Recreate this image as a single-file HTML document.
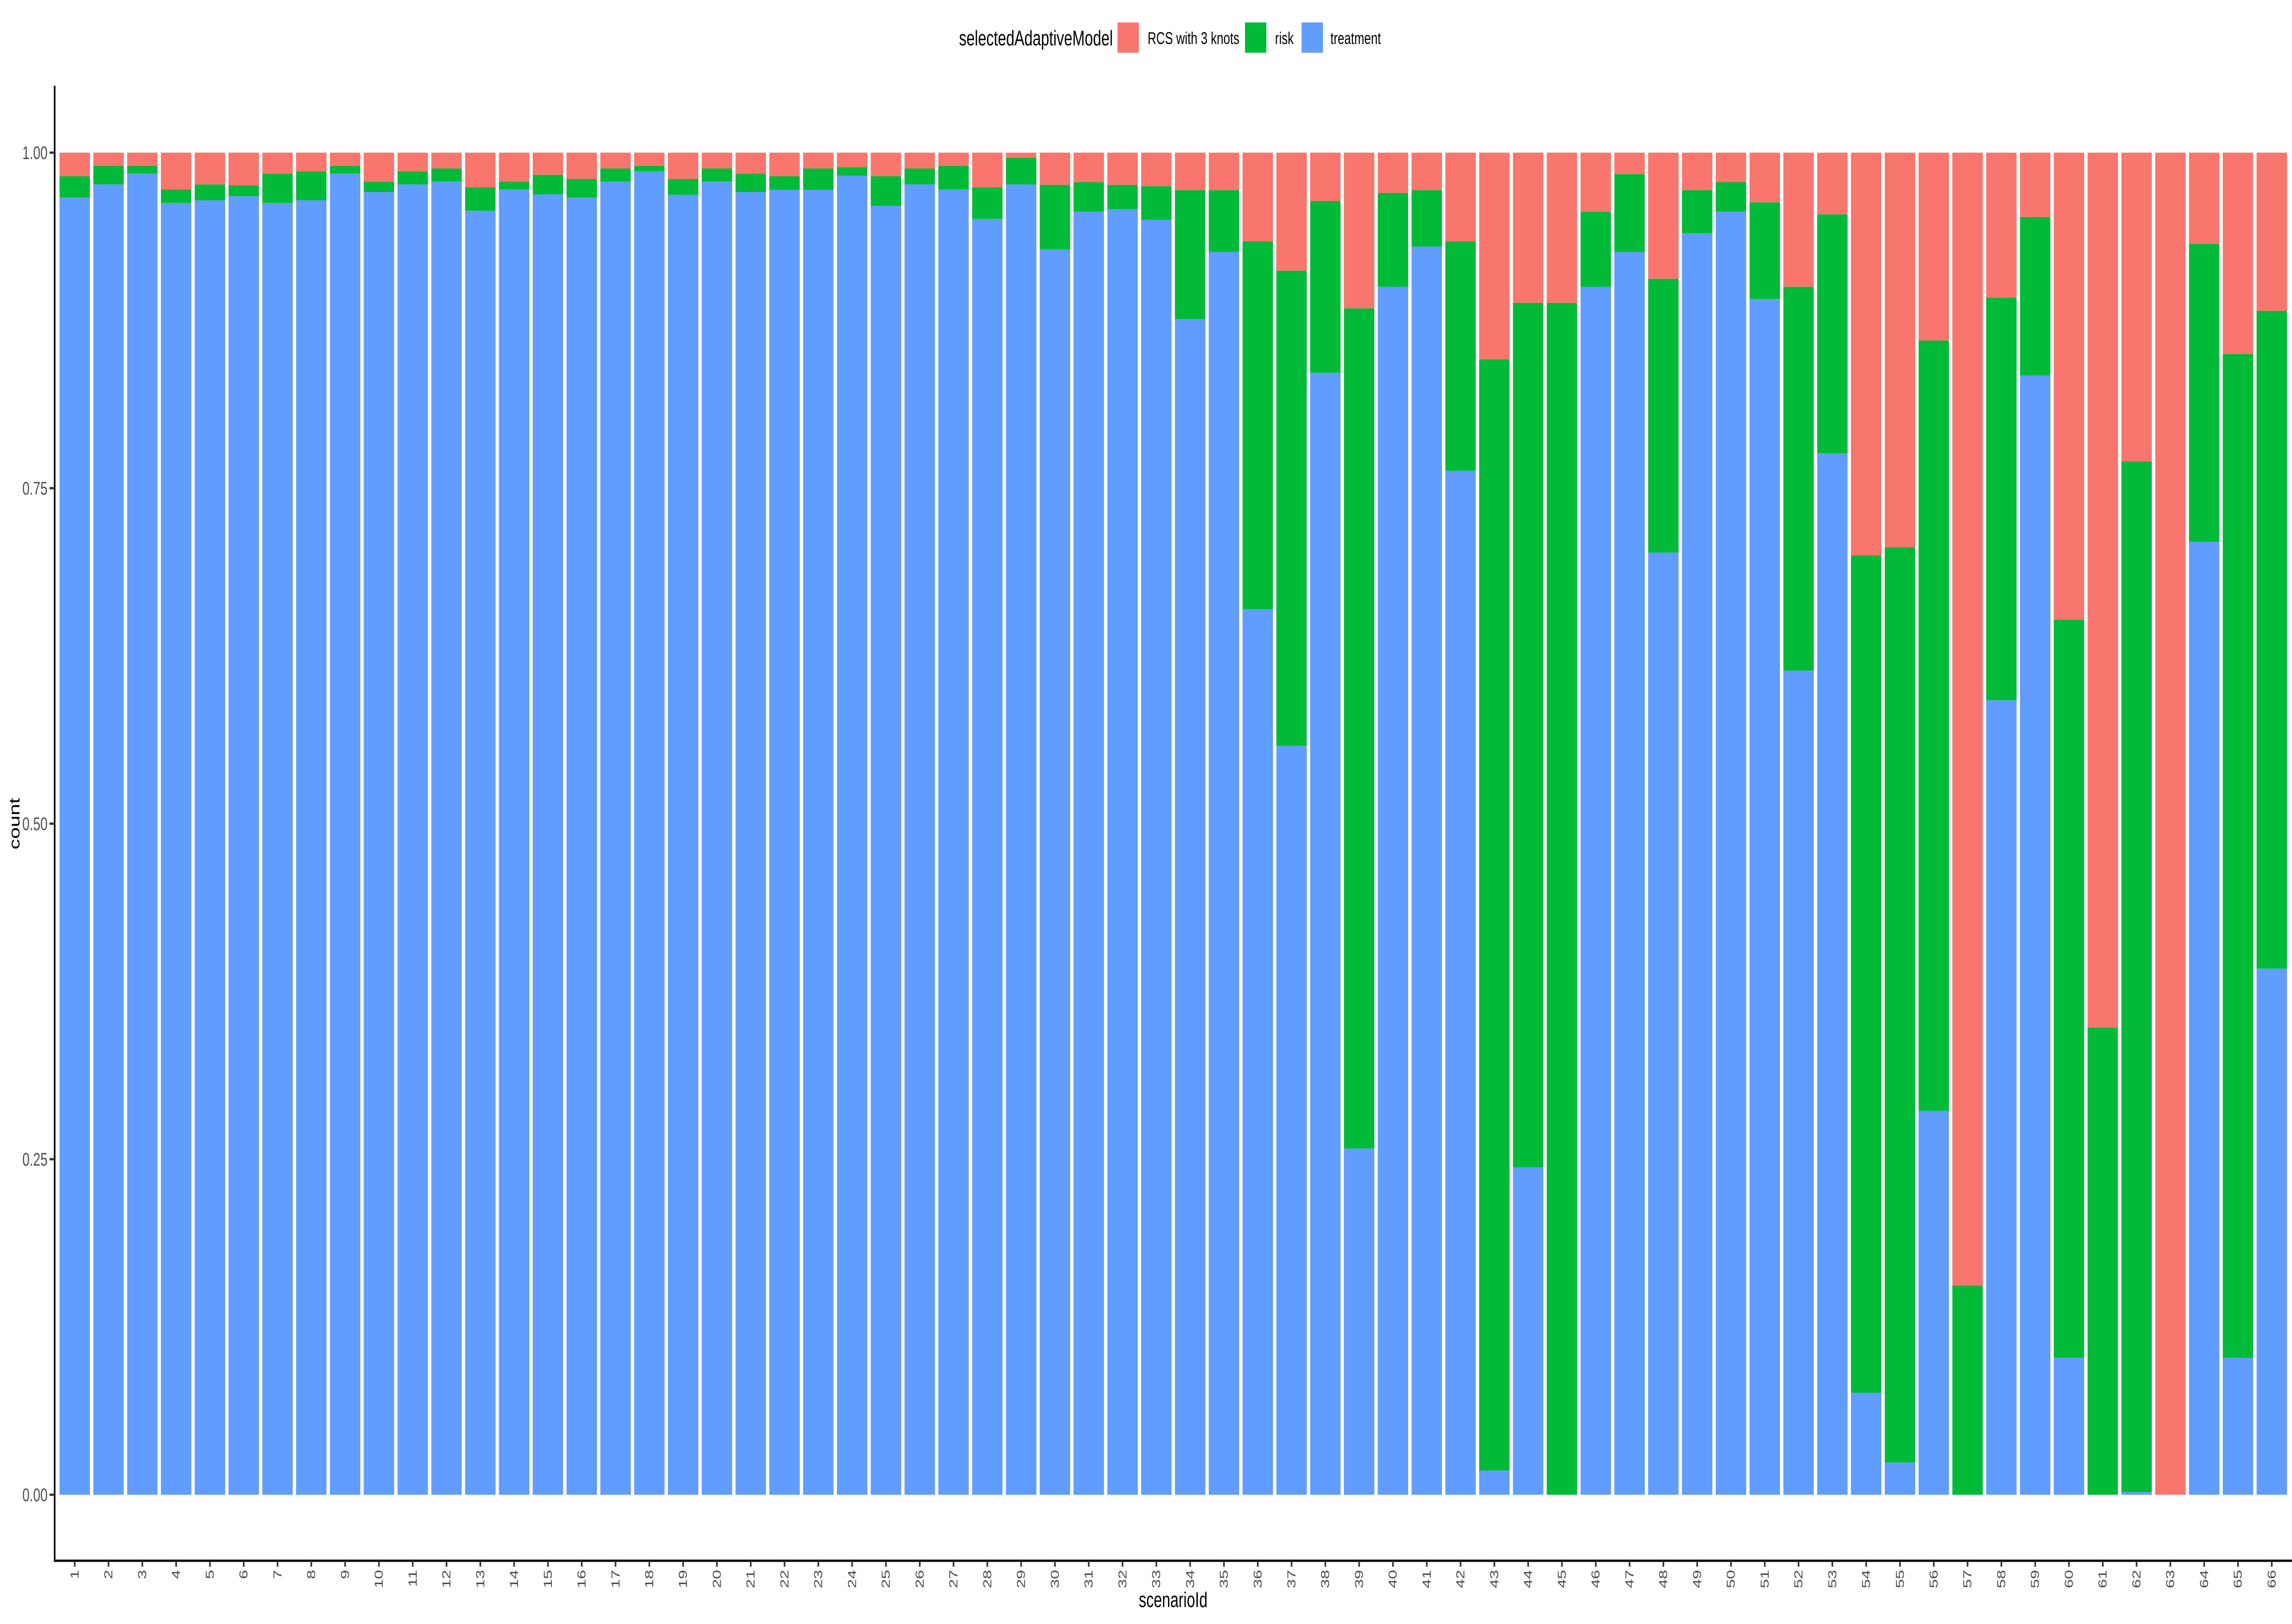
<!DOCTYPE html>
<html><head><meta charset="utf-8"><style>
html,body{margin:0;padding:0;background:#fff;width:100%;height:100%;overflow:hidden;}
svg{display:block;width:100vw;height:100vh;font-family:"Liberation Sans",Arial,sans-serif;}
</style></head><body>
<svg id="chart" viewBox="0 0 7086 3543" preserveAspectRatio="none" xmlns="http://www.w3.org/2000/svg">
<rect width="7086" height="3543" fill="#fff"/>
<g id="legend">
<text x="2965" y="99" font-size="46">selectedAdaptiveModel</text>
<rect x="3455" y="49" width="66" height="66" fill="#F8766D"/>
<text x="3548" y="96" font-size="37">RCS with 3 knots</text>
<rect x="3849" y="49" width="66" height="66" fill="#00BA38"/>
<text x="3942" y="96" font-size="37">risk</text>
<rect x="4024" y="49" width="66" height="66" fill="#619CFF"/>
<text x="4113" y="96" font-size="37">treatment</text>
</g>
<g id="bars"></g>
<g id="axes"></g>
<text x="3627" y="3506" font-size="46" text-anchor="middle">scenarioId</text>
<text x="0" y="0" font-size="46" text-anchor="middle" transform="translate(60,1797) rotate(-90)">count</text>
</svg>
<script>
// proportion of treatment (bottom segment) per scenario
var treatment = [0.9665,0.9763,0.9844,0.9625,0.9645,0.9675,0.9625,0.9645,0.9844,0.9706,0.9763,0.9784,0.9567,0.9726,0.9689,0.9665,0.9784,0.9861,0.9686,0.9784,0.9706,0.9723,0.9723,0.9828,0.9604,0.9763,0.9726,0.9506,0.9763,0.928,0.956,0.958,0.950,0.876,0.926,0.660,0.558,0.836,0.258,0.900,0.930,0.763,0.018,0.244,0.0,0.900,0.926,0.702,0.940,0.956,0.891,0.614,0.776,0.076,0.024,0.286,0.0,0.592,0.834,0.102,0.0,0.002,0.0,0.710,0.102,0.392];
// proportion of risk (middle segment) per scenario
var risk = [0.0159,0.0139,0.0058,0.0101,0.0118,0.0082,0.0219,0.0216,0.0058,0.0078,0.0098,0.0098,0.0176,0.0058,0.0145,0.0139,0.0098,0.0041,0.0118,0.0098,0.0138,0.0101,0.0159,0.0064,0.0220,0.0119,0.0176,0.0237,0.0200,0.048,0.022,0.018,0.025,0.096,0.046,0.274,0.354,0.128,0.626,0.070,0.042,0.171,0.828,0.644,0.888,0.056,0.058,0.204,0.032,0.022,0.072,0.286,0.178,0.624,0.682,0.574,0.156,0.300,0.118,0.550,0.348,0.768,0.0,0.222,0.748,0.490];
var categories = [];
for (var k = 1; k <= 66; k++) categories.push(String(k));
var yTicks = [0, 0.25, 0.5, 0.75, 1];
var yTickLabels = ["0.00","0.25","0.50","0.75","1.00"];

var NS = "http://www.w3.org/2000/svg";
var X0 = 231, STEP = 104.5, BW = 94, Y0 = 3261, YH = 2928;
function xScale(i){ return X0 + i*STEP; }
function yScale(v){ return Y0 - v*YH; }
function mk(tag, attrs){ var e=document.createElementNS(NS,tag); for (var a in attrs) e.setAttribute(a, attrs[a]); return e; }

var bars = document.getElementById('bars');
categories.forEach(function(c, i){
  var t = treatment[i], r = risk[i], rc = Math.max(0, 1 - t - r);
  var x = xScale(i) - BW/2;
  var segs = [[0, t, '#619CFF', 'treatment'], [t, t+r, '#00BA38', 'risk'], [t+r, t+r+rc, '#F8766D', 'rcs']];
  segs.forEach(function(s){
    if (s[1] - s[0] <= 0) return;
    var el = mk('rect', {x: x, y: yScale(s[1]), width: BW, height: yScale(s[0]) - yScale(s[1]), fill: s[2]});
    
    
    bars.appendChild(el);
  });
});

var axes = document.getElementById('axes');
var yl = mk('line', {x1: 169, y1: 187, x2: 169, y2: 3407, stroke: '#000', 'stroke-width': 5});


axes.appendChild(yl);
var xl = mk('line', {x1: 167, y1: 3405, x2: 7086, y2: 3405, stroke: '#000', 'stroke-width': 5});


axes.appendChild(xl);

yTicks.forEach(function(v, i){
  var y = yScale(v);
  var tk = mk('line', {x1: 153, y1: y, x2: 169, y2: y, stroke: '#333', 'stroke-width': 5});
  
  
  axes.appendChild(tk);
  var tx = mk('text', {x: 147, y: y + 14, 'font-size': 40, fill: '#4d4d4d', 'text-anchor': 'end'});
  tx.textContent = yTickLabels[i];
  
  
  axes.appendChild(tx);
});

categories.forEach(function(c, i){
  var x = xScale(i);
  var tk = mk('line', {x1: x, y1: 3405, x2: x, y2: 3418, stroke: '#333', 'stroke-width': 5});
  
  
  axes.appendChild(tk);
  var tx = mk('text', {x: 0, y: 0, 'font-size': 36, fill: '#4d4d4d', 'text-anchor': 'end', transform: 'translate(' + (x + 12) + ',3425) rotate(-90)'});
  tx.textContent = c;
  
  
  axes.appendChild(tx);
});
</script>
</body></html>
